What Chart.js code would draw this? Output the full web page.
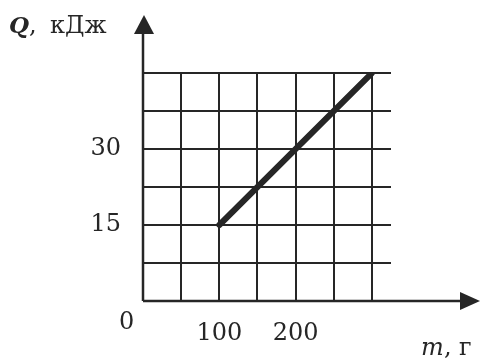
<!DOCTYPE html>
<html>
<head>
<meta charset="utf-8">
<script src="https://cdn.jsdelivr.net/npm/chart.js@4/dist/chart.umd.min.js"></script>
<style>
  html, body { margin: 0; padding: 0; background: #fff; }
  canvas { display: block; }
</style>
</head>
<body>
<canvas id="graph" width="482" height="358"></canvas>
<script>
// m, g  ->  Q, kJ
const mass = [100, 300];
const heat = [15, 45];
// grid lines and labelled ticks
const massGrid = [0, 50, 100, 150, 200, 250, 300];
const heatGrid = [0, 7.5, 15, 22.5, 30, 37.5, 45];
const massLabels = [100, 200];
const heatLabels = [15, 30];

const ink = '#262626';
const serif = 'DejaVu Serif';

// axes with arrows, origin "0" and axis names
const axesPlugin = {
  id: 'axes',
  afterDraw(chart) {
    const c = chart.ctx;
    const x = chart.scales.x, y = chart.scales.y;
    const x0 = x.getPixelForValue(0), y0 = y.getPixelForValue(0);
    const tipX = chart.width - 2, tipY = 15;
    c.save();
    c.strokeStyle = ink;
    c.fillStyle = ink;
    c.lineWidth = 2.5;
    c.beginPath();
    c.moveTo(x0, y0);
    c.lineTo(tipX - 18, y0);
    c.moveTo(x0, y0);
    c.lineTo(x0, tipY + 18);
    c.stroke();
    // arrow heads
    c.beginPath();
    c.moveTo(tipX, y0);
    c.lineTo(tipX - 20, y0 - 9);
    c.lineTo(tipX - 20, y0 + 9);
    c.closePath();
    c.fill();
    c.beginPath();
    c.moveTo(x0 + 1, tipY);
    c.lineTo(x0 - 9, tipY + 19);
    c.lineTo(x0 + 11, tipY + 19);
    c.closePath();
    c.fill();

    c.textBaseline = 'alphabetic';
    c.textAlign = 'left';
    c.font = '24px "' + serif + '"';
    c.fillText('0', x0 - 24, y0 + 28);

    c.font = 'italic bold 23px "' + serif + '"';
    c.fillText('Q', 9, 33);
    c.font = '24px "' + serif + '"';
    c.fillText(',', 29, 33);
    c.fillText('кДж', 50, 33);

    c.font = 'italic 24px "' + serif + '"';
    c.fillText('m', 421, 355);
    c.font = '24px "' + serif + '"';
    c.fillText(',', 444, 355);
    c.fillText('г', 459, 355);
    c.restore();
  }
};

new Chart(document.getElementById('graph'), {
  type: 'scatter',
  data: {
    datasets: [{
      data: mass.map((m, i) => ({ x: m, y: heat[i] })),
      showLine: true,
      borderColor: ink,
      borderWidth: 6,
      borderCapStyle: 'round',
      pointRadius: 0
    }]
  },
  options: {
    responsive: false,
    animation: false,
    layout: { padding: { top: 73, right: 91, left: 0, bottom: 0 } },
    plugins: { legend: { display: false }, tooltip: { enabled: false } },
    scales: {
      x: {
        type: 'linear',
        min: 0,
        max: 325,
        afterBuildTicks: s => { s.ticks = massGrid.map(v => ({ value: v })); },
        afterFit: s => { s.height = 57; },
        border: { display: false },
        grid: { color: ink, lineWidth: 2, drawTicks: false },
        ticks: {
          autoSkip: false,
          maxRotation: 0,
          padding: 18,
          color: ink,
          font: { family: serif, size: 24 },
          callback: v => massLabels.includes(v) ? String(v) : ''
        }
      },
      y: {
        type: 'linear',
        min: 0,
        max: 45,
        afterBuildTicks: s => { s.ticks = heatGrid.map(v => ({ value: v })); },
        afterFit: s => { s.width = 143; },
        border: { display: false },
        grid: { color: ink, lineWidth: 2, drawTicks: false },
        ticks: {
          autoSkip: false,
          padding: 22,
          color: ink,
          font: { family: serif, size: 24 },
          callback: v => heatLabels.includes(v) ? String(v) : ''
        }
      }
    }
  },
  plugins: [axesPlugin]
});
</script>
</body>
</html>
